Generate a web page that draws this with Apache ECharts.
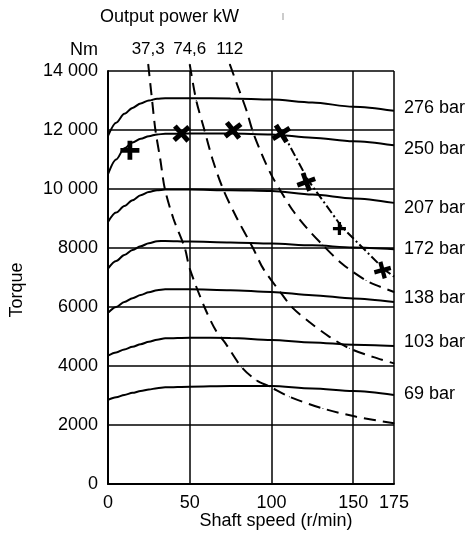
<!DOCTYPE html>
<html>
<head>
<meta charset="utf-8">
<title>Torque vs shaft speed</title>
<script src="https://cdn.jsdelivr.net/npm/echarts@6/dist/echarts.min.js"></script>
<style>
  html, body { margin: 0; padding: 0; background: #fff; }
  #main { width: 473px; height: 545px; }
</style>
</head>
<body>
<div id="main"></div>
<script>
// shaft speed (r/min) where the pressure curves were read
const speeds = [0, 5, 10, 15, 20, 25, 30, 35, 50, 75, 100, 125, 150, 175];

// torque (Nm) per pressure curve
const pressureNames = ["276 bar", "250 bar", "207 bar", "172 bar", "138 bar", "103 bar", "69 bar"];
const torque276 = [11800, 12250, 12550, 12750, 12900, 13000, 13060, 13080, 13080, 13070, 13030, 12930, 12790, 12650];
const torque250 = [10500, 11000, 11380, 11580, 11700, 11790, 11850, 11870, 11880, 11880, 11850, 11740, 11620, 11480];
const torque207 = [8880, 9200, 9420, 9620, 9790, 9900, 9960, 9980, 9980, 9960, 9930, 9810, 9680, 9530];
const torque172 = [7300, 7560, 7760, 7930, 8060, 8160, 8230, 8240, 8220, 8190, 8150, 8090, 8020, 7960];
const torque138 = [5800, 6000, 6170, 6300, 6410, 6500, 6570, 6600, 6600, 6570, 6510, 6400, 6290, 6170];
const torque103 = [4350, 4460, 4560, 4650, 4740, 4820, 4890, 4940, 4960, 4950, 4880, 4800, 4720, 4680];
const torque69 = [2850, 2940, 3020, 3090, 3150, 3200, 3250, 3280, 3300, 3320, 3320, 3240, 3150, 3020];

// constant output power curves (kW)
const powerNames = ["37,3", "74,6", "112"];
const power373Speed = [24.6, 27, 29, 32, 34.8, 40, 47, 50, 59, 66, 72, 81.6, 90.7, 99, 111, 131.5, 152, 175];
const power373Torque = [14230, 13000, 12000, 11000, 10000, 9000, 8000, 7300, 6000, 5200, 4760, 3970, 3520, 3300, 2960, 2560, 2280, 2060];
const power746Speed = [50, 54, 59, 64, 70.4, 78.5, 88.7, 95, 106, 113, 123, 135.5, 147.7, 162, 175];
const power746Torque = [14230, 13000, 12000, 11000, 10000, 9050, 8000, 7300, 6460, 5970, 5500, 4990, 4600, 4310, 4090];
const power112Speed = [74.5, 79.6, 84.7, 88.7, 94.8, 100, 106, 113, 121.3, 131.4, 143.6, 157.9, 164, 175];
const power112Torque = [14230, 13450, 12670, 11930, 11090, 10470, 9900, 9280, 8700, 8100, 7450, 6900, 6740, 6510];

// max torque limit (dash-dot) and marked points
const limitSpeed = [107, 122.4, 143, 169.5, 175];
const limitTorque = [11900, 10300, 8720, 7250, 7030];
const markSpeed = [13.4, 45, 76.5, 106, 121.3, 141.6, 168];
const markTorque = [11310, 11880, 11990, 11880, 10240, 8660, 7250];

// styling only
const endLabelShift = [-3, 4, 5, 0, -4, -4, -1];
const markRotate = [0, 42, 38, 32, 20, 0, 15];
const markSize = [19, 20, 20, 20, 19, 13, 17];

const font = "Liberation Sans, Arial, sans-serif";
const black = "#000";

const pressureTorque = [torque276, torque250, torque207, torque172, torque138, torque103, torque69];
const powerSpeed = [power373Speed, power746Speed, power112Speed];
const powerTorque = [power373Torque, power746Torque, power112Torque];

const plus = "path://M-1.25,-5L1.25,-5L1.25,-1.25L5,-1.25L5,1.25L1.25,1.25L1.25,5L-1.25,5L-1.25,1.25L-5,1.25L-5,-1.25L-1.25,-1.25Z";

var series = [];

pressureTorque.forEach(function (t, i) {
  series.push({
    name: pressureNames[i],
    type: "line",
    data: speeds.map(function (s, j) { return [s, t[j]]; }),
    smooth: 0.3,
    smoothMonotone: "x",
    showSymbol: false,
    silent: true,
    lineStyle: { color: black, width: 2 },
    endLabel: {
      show: true,
      formatter: "{a}",
      distance: 10,
      offset: [0, endLabelShift[i]],
      fontSize: 18,
      color: black,
      fontFamily: font
    }
  });
});

powerSpeed.forEach(function (sp, i) {
  series.push({
    name: powerNames[i] + " kW",
    type: "line",
    data: sp.map(function (s, j) {
      var item = { value: [s, powerTorque[i][j]] };
      if (j === 0) {
        item.label = {
          show: true,
          position: "top",
          distance: 6,
          formatter: powerNames[i],
          fontSize: 17,
          color: black,
          fontFamily: font
        };
      }
      return item;
    }),
    smooth: 0.3,
    showSymbol: true,
    showAllSymbol: true,
    symbol: "circle",
    symbolSize: 1,
    clip: false,
    silent: true,
    itemStyle: { color: black },
    lineStyle: { color: black, width: 2, type: [12, 7] }
  });
});

series.push({
  name: "limit",
  type: "line",
  data: limitSpeed.map(function (s, j) { return [s, limitTorque[j]]; }),
  showSymbol: false,
  silent: true,
  lineStyle: { color: black, width: 2, type: [9, 3, 2, 3] }
});

series.push({
  name: "points",
  type: "scatter",
  z: 5,
  silent: true,
  data: markSpeed.map(function (s, j) {
    return {
      value: [s, markTorque[j]],
      symbolRotate: markRotate[j],
      symbolSize: markSize[j]
    };
  }),
  symbol: plus,
  itemStyle: { color: black, opacity: 1 }
});

var chart = echarts.init(document.getElementById("main"));
chart.setOption({
  animation: false,
  backgroundColor: "#fff",
  textStyle: { fontFamily: font },
  grid: { left: 108, top: 71, right: 79, bottom: 61, containLabel: false },
  xAxis: {
    type: "value",
    min: 0,
    max: 175,
    interval: 50,
    axisLine: { show: true, lineStyle: { color: black, width: 2 } },
    axisTick: { show: false },
    axisLabel: { fontSize: 18, color: black, margin: 10, fontFamily: font },
    splitLine: { show: true, lineStyle: { color: black, width: 1.5 } }
  },
  yAxis: {
    type: "value",
    min: 0,
    max: 14000,
    interval: 2000,
    axisLine: { show: true, lineStyle: { color: black, width: 2 } },
    axisTick: { show: false },
    axisLabel: {
      fontSize: 18,
      color: black,
      margin: 10,
      fontFamily: font,
      formatter: function (v) {
        return v >= 10000 ? String(v).replace(/(\d+)(\d{3})$/, "$1 $2") : String(v);
      }
    },
    splitLine: { show: true, lineStyle: { color: black, width: 1.5 } }
  },
  graphic: [
    { type: "text", left: 100, top: 8, style: { text: "Output power kW", fontSize: 18, fill: black, fontFamily: font } },
    { type: "text", left: 70, top: 41, style: { text: "Nm", fontSize: 18, fill: black, fontFamily: font } },
    { type: "line", shape: { x1: 283, y1: 13, x2: 283, y2: 20 }, style: { stroke: "#999", lineWidth: 1 } },
    { type: "text", x: 17, y: 290, rotation: Math.PI / 2, style: { text: "Torque", fontSize: 18, fill: black, fontFamily: font, align: "center", verticalAlign: "middle" } },
    { type: "text", x: 276, y: 521, style: { text: "Shaft speed (r/min)", fontSize: 18, fill: black, fontFamily: font, align: "center", verticalAlign: "middle" } }
  ],
  series: series
});
</script>
</body>
</html>
